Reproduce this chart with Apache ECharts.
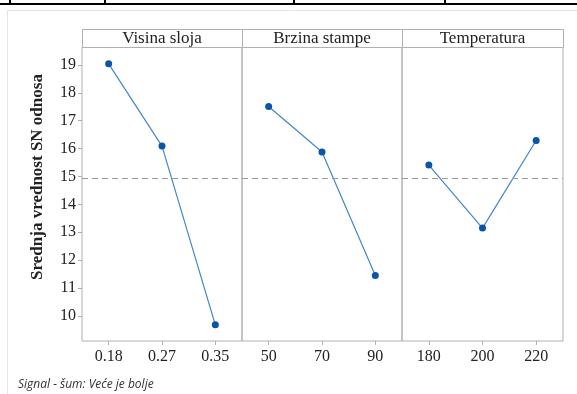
<!DOCTYPE html>
<html>
<head>
<meta charset="utf-8">
<script src="https://cdn.jsdelivr.net/npm/echarts@6/dist/echarts.min.js"></script>
<style>
html,body{margin:0;padding:0;background:#fff;}
#c{width:577px;height:394px;}
</style>
</head>
<body>
<div id="c"></div>
<script>
const factors = ['Visina sloja', 'Brzina stampe', 'Temperatura'];
const visinaLevels = ['0.18', '0.27', '0.35'];
const brzinaLevels = ['50', '70', '90'];
const tempLevels = ['180', '200', '220'];
const visinaSloja = [19.04, 16.09, 9.68];
const brzinaStampe = [17.51, 15.88, 11.45];
const temperatura = [15.41, 13.15, 16.29];
const yTicks = [10, 11, 12, 13, 14, 15, 16, 17, 18, 19];
const yTitle = 'Srednja vrednost SN odnosa';
const footer = 'Signal - šum: Veće je bolje';

(function () {
const levels = [visinaLevels, brzinaLevels, tempLevels];
const values = [visinaSloja, brzinaStampe, temperatura];
const all = values.flat();
const mean = all.reduce((a, b) => a + b, 0) / all.length;

const serif = 'Liberation Serif';
const border = '#b0b0b0';
const Y_MIN = 9.1, Y_MAX = 19.645;
const panelLeft = [82, 242, 402];
const panelWidth = [160, 160, 161];
const gTop = 47, gHeight = 294;

const grids = [], xAxes = [], yAxes = [], series = [], graphics = [];
for (let i = 0; i < 3; i++) {
  grids.push({left: panelLeft[i], width: panelWidth[i], top: gTop, height: gHeight,
    show: true, borderColor: border, borderWidth: 1, backgroundColor: 'transparent', containLabel: false});
  xAxes.push({type: 'category', gridIndex: i, data: levels[i], boundaryGap: true,
    axisLine: {show: false},
    axisTick: {show: true, alignWithLabel: true, length: 4, lineStyle: {color: border}},
    axisLabel: {fontFamily: serif, fontSize: 16, color: '#222', margin: 8},
    splitLine: {show: false}});
  yAxes.push({type: 'value', gridIndex: i, min: Y_MIN, max: Y_MAX, show: i === 0,
    axisLine: {show: false},
    axisTick: {show: true, length: 4, customValues: yTicks, lineStyle: {color: border}},
    axisLabel: {fontFamily: serif, fontSize: 16, color: '#222', margin: 6, customValues: yTicks},
    splitLine: {show: false}});
  series.push({type: 'line', xAxisIndex: i, yAxisIndex: i, data: values[i],
    symbol: 'circle', symbolSize: 7, showSymbol: true,
    lineStyle: {color: '#4286cc', width: 1.2},
    itemStyle: {color: '#0a55a8'},
    markLine: {silent: true, symbol: 'none', label: {show: false},
      lineStyle: {color: '#9a9a9a', type: [6, 4], width: 1},
      data: [{yAxis: mean}]},
    animation: false});
  graphics.push({type: 'rect', shape: {x: panelLeft[i] + 0.5, y: 29.5, width: panelWidth[i], height: 18},
    style: {fill: '#fff', stroke: border, lineWidth: 1}, z: 10});
  graphics.push({type: 'text', x: panelLeft[i] + panelWidth[i] / 2, y: 39,
    style: {text: factors[i], fontFamily: serif, fontSize: 17, fill: '#222', align: 'center', verticalAlign: 'middle'}, z: 11});
}

graphics.push({type: 'text', x: 38, y: 177, rotation: Math.PI / 2,
  style: {text: yTitle, fontFamily: serif, fontSize: 17, fontWeight: 'bold', fill: '#222', align: 'center', verticalAlign: 'middle'}, z: 5});
graphics.push({type: 'rect', shape: {x: 7.5, y: 10.5, width: 580, height: 400},
  style: {fill: 'none', stroke: '#e3e3e3', lineWidth: 1}, z: 1});
graphics.push({type: 'rect', shape: {x: 0, y: 3, width: 577, height: 2}, style: {fill: '#000'}, z: 1});
[10, 105, 294, 445].forEach(x => graphics.push({type: 'rect', shape: {x: x - 1, y: 0, width: 2, height: 5}, style: {fill: '#000'}, z: 1}));
graphics.push({type: 'text', x: 18, y: 385,
  style: {text: footer, fontFamily: 'Open Sans', fontStyle: 'italic', fontSize: 12, fill: '#333', verticalAlign: 'middle'}, z: 1});

const chart = echarts.init(document.getElementById('c'), null, {renderer: 'canvas'});
chart.setOption({animation: false, grid: grids, xAxis: xAxes, yAxis: yAxes, series: series, graphic: graphics});
})();
</script>
</body>
</html>
